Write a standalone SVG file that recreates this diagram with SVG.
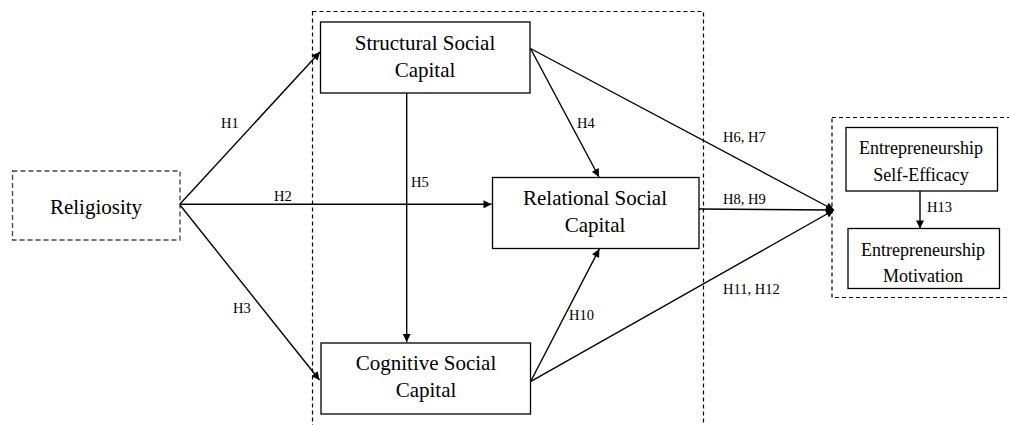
<svg xmlns="http://www.w3.org/2000/svg" width="1009" height="425" viewBox="0 0 1009 425">
<defs>
<marker id="arr" viewBox="0 0 10 10" refX="10" refY="5" markerWidth="10" markerHeight="8" markerUnits="userSpaceOnUse" orient="auto">
<path d="M0,0 L10,5 L0,10 Z" fill="#000"/>
</marker>
<style>
.box{fill:#fff;stroke:#000;stroke-width:1.3}
.dash{fill:none;stroke:#000;stroke-width:1.2;stroke-dasharray:4,3}
.dashg{fill:#fff;stroke:#444;stroke-width:1.3;stroke-dasharray:5,3}
.node{font-family:"Liberation Serif","Times New Roman",serif;font-size:21px;fill:#000;text-anchor:middle}
.nodes{font-family:"Liberation Serif","Times New Roman",serif;font-size:18px;fill:#000;text-anchor:middle}
.lbl{font-family:"Liberation Serif","Times New Roman",serif;font-size:14.5px;fill:#000}
.ln{fill:none;stroke:#000;stroke-width:1.4;marker-end:url(#arr)}
</style>
</defs>
<rect width="1009" height="425" fill="#fff"/>
<g id="groups">
<rect class="dash" x="312.5" y="11.5" width="391" height="430"/>
<rect class="dash" x="832" y="117.5" width="190" height="180"/>
</g>
<g id="religiosity">
<rect class="dashg" x="12.5" y="171" width="167.5" height="69"/>
<text class="node" x="96" y="214">Religiosity</text>
</g>
<g id="structural">
<rect class="box" x="320.5" y="22" width="209.5" height="71"/>
<text class="node" x="425" y="50">Structural Social</text>
<text class="node" x="425" y="77">Capital</text>
</g>
<g id="relational">
<rect class="box" x="492.5" y="177.5" width="206.5" height="71"/>
<text class="node" x="595" y="205">Relational Social</text>
<text class="node" x="595" y="232">Capital</text>
</g>
<g id="cognitive">
<rect class="box" x="321" y="343" width="209.5" height="71"/>
<text class="node" x="426" y="370">Cognitive Social</text>
<text class="node" x="426" y="397">Capital</text>
</g>
<g id="selfefficacy">
<rect class="box" x="846" y="127.5" width="151.5" height="63.5"/>
<text class="nodes" x="921" y="154">Entrepreneurship</text>
<text class="nodes" x="921" y="181">Self-Efficacy</text>
</g>
<g id="motivation">
<rect class="box" x="848" y="228.5" width="151.5" height="60"/>
<text class="nodes" x="923" y="256">Entrepreneurship</text>
<text class="nodes" x="923" y="282">Motivation</text>
</g>
<g id="connectors">
<line class="ln" x1="180" y1="204" x2="320" y2="52"/>
<line class="ln" x1="180" y1="204.3" x2="491.5" y2="204.3"/>
<line class="ln" x1="180" y1="205" x2="319.5" y2="380"/>
<line class="ln" x1="406.7" y1="93" x2="406.7" y2="342"/>
<line class="ln" x1="530.5" y1="48.5" x2="599" y2="177"/>
<line class="ln" x1="530.5" y1="48.5" x2="834" y2="210"/>
<line class="ln" x1="699" y1="209" x2="834" y2="210"/>
<line class="ln" x1="530.5" y1="381.7" x2="599.3" y2="249"/>
<line class="ln" x1="530.5" y1="381.7" x2="834" y2="210"/>
<line class="ln" x1="920" y1="191" x2="920" y2="228.5"/>
</g>
<g id="labels">
<text class="lbl" x="221" y="128">H1</text>
<text class="lbl" x="274" y="201">H2</text>
<text class="lbl" x="233" y="313">H3</text>
<text class="lbl" x="577" y="128">H4</text>
<text class="lbl" x="411" y="187">H5</text>
<text class="lbl" x="723" y="142">H6, H7</text>
<text class="lbl" x="723" y="204">H8, H9</text>
<text class="lbl" x="569" y="320">H10</text>
<text class="lbl" x="723" y="294">H11, H12</text>
<text class="lbl" x="927" y="212">H13</text>
</g>
</svg>
